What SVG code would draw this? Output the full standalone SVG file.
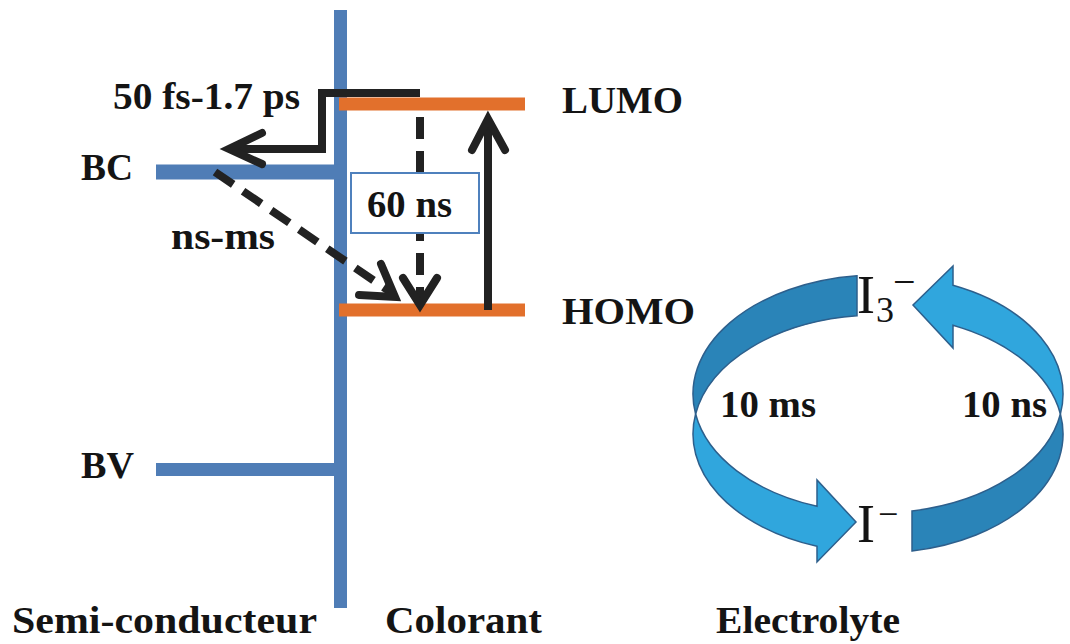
<svg xmlns="http://www.w3.org/2000/svg" width="1070" height="644" viewBox="0 0 1070 644">
<style>
.t{font-family:"Liberation Serif","Times New Roman",serif;font-weight:bold;fill:#141414;}
.ion{font-family:"Liberation Serif","Times New Roman",serif;font-weight:normal;fill:#141414;}
.blue{stroke:#4F7DB6;fill:none;}
.orange{stroke:#E2702C;stroke-width:13;fill:none;}
.arr{stroke:#222;stroke-width:8;fill:none;stroke-linecap:butt;stroke-linejoin:miter;}
.head{stroke:#222;stroke-width:8;fill:none;stroke-linecap:round;stroke-linejoin:miter;}
.dash{stroke-dasharray:22 12;}
.dark{fill:#2A84B8;stroke:#2D5F8C;stroke-width:1.5;}
.light{fill:#30A6DD;stroke:#2D5F8C;stroke-width:1.5;}
</style>
<rect width="1070" height="644" fill="#fff"/>

<g id="semiconductor">
  <line class="blue" x1="340.5" y1="10" x2="340.5" y2="608" stroke-width="13"/>
  <line class="blue" x1="156" y1="172" x2="341" y2="172" stroke-width="15"/>
  <line class="blue" x1="156" y1="469.5" x2="341" y2="469.5" stroke-width="13"/>
  <text class="t" x="81" y="180" font-size="38" textLength="52" lengthAdjust="spacingAndGlyphs">BC</text>
  <text class="t" x="81" y="478" font-size="38" textLength="53" lengthAdjust="spacingAndGlyphs">BV</text>
</g>

<g id="dye">
  <line class="orange" x1="339" y1="104" x2="525" y2="104"/>
  <line class="orange" x1="339" y1="310" x2="525" y2="310"/>
  <text class="t" x="562" y="113" font-size="38" textLength="121" lengthAdjust="spacingAndGlyphs">LUMO</text>
  <text class="t" x="562" y="324" font-size="38" textLength="133" lengthAdjust="spacingAndGlyphs">HOMO</text>
</g>

<g id="connectors">
  <!-- injection -->
  <path class="arr" d="M420,93 H322 V149 H232"/>
  <polyline class="head" points="262,133 229,149 262,164"/>
  <!-- recombination ns-ms -->
  <line class="arr dash" x1="215" y1="172" x2="392" y2="293"/>
  <polyline class="head" points="359,295 395,297 381,264"/>
  <!-- relaxation 60 ns -->
  <line class="arr dash" x1="420" y1="117" x2="420" y2="302"/>
  <polyline class="head" points="403,278 420,305 437,278"/>
  <!-- excitation -->
  <line class="arr" x1="488" y1="310" x2="488" y2="121"/>
  <polyline class="head" points="472,150 488,119 505,150"/>
</g>

<g id="label-60ns">
  <rect x="351" y="173" width="128" height="60" fill="#fff" stroke="#4F81BD" stroke-width="2"/>
  <text class="t" x="367" y="217" font-size="38" textLength="85" lengthAdjust="spacingAndGlyphs">60 ns</text>
</g>

<g id="labels">
  <text class="t" x="113" y="109" font-size="38" textLength="187" lengthAdjust="spacingAndGlyphs">50 fs-1.7 ps</text>
  <text class="t" x="171" y="249" font-size="38" textLength="104" lengthAdjust="spacingAndGlyphs">ns-ms</text>
</g>

<g id="electrolyte">
  <path class="dark" d="M857,275.8 A185,119 0 0 0 695.6,414 A185,119 0 0 1 857,315.8 Z"/>
  <path class="light" d="M695.6,414 A185,119 0 0 0 817,546.3 L817,562 L856,522 L817,480 L817,506.3 A185,119 0 0 1 695.6,414 Z"/>
  <path class="dark" d="M912,511 L912,551 A185,119 0 0 0 1060.4,414 A185,119 0 0 1 912,511 Z"/>
  <path class="light" d="M1060.4,414 A185,119 0 0 0 953,325.2 L953,348 L913,305 L953,266 L953,285.2 A185,119 0 0 1 1060.4,414 Z"/>
  <text class="ion" x="857" y="313" font-size="54">I</text>
  <text class="ion" x="876" y="322" font-size="36">3</text>
  <text class="ion" x="893" y="295" font-size="40">−</text>
  <text class="ion" x="857" y="542" font-size="54">I</text>
  <text class="ion" x="878" y="526" font-size="36">−</text>
  <text class="t" x="720" y="417" font-size="38" textLength="96" lengthAdjust="spacingAndGlyphs">10 ms</text>
  <text class="t" x="962" y="417" font-size="38" textLength="85" lengthAdjust="spacingAndGlyphs">10 ns</text>
</g>

<g id="titles">
  <text class="t" x="12" y="633" font-size="37" textLength="305" lengthAdjust="spacingAndGlyphs">Semi-conducteur</text>
  <text class="t" x="385" y="633" font-size="37" textLength="157" lengthAdjust="spacingAndGlyphs">Colorant</text>
  <text class="t" x="716" y="633" font-size="37" textLength="184" lengthAdjust="spacingAndGlyphs">Electrolyte</text>
</g>
</svg>
